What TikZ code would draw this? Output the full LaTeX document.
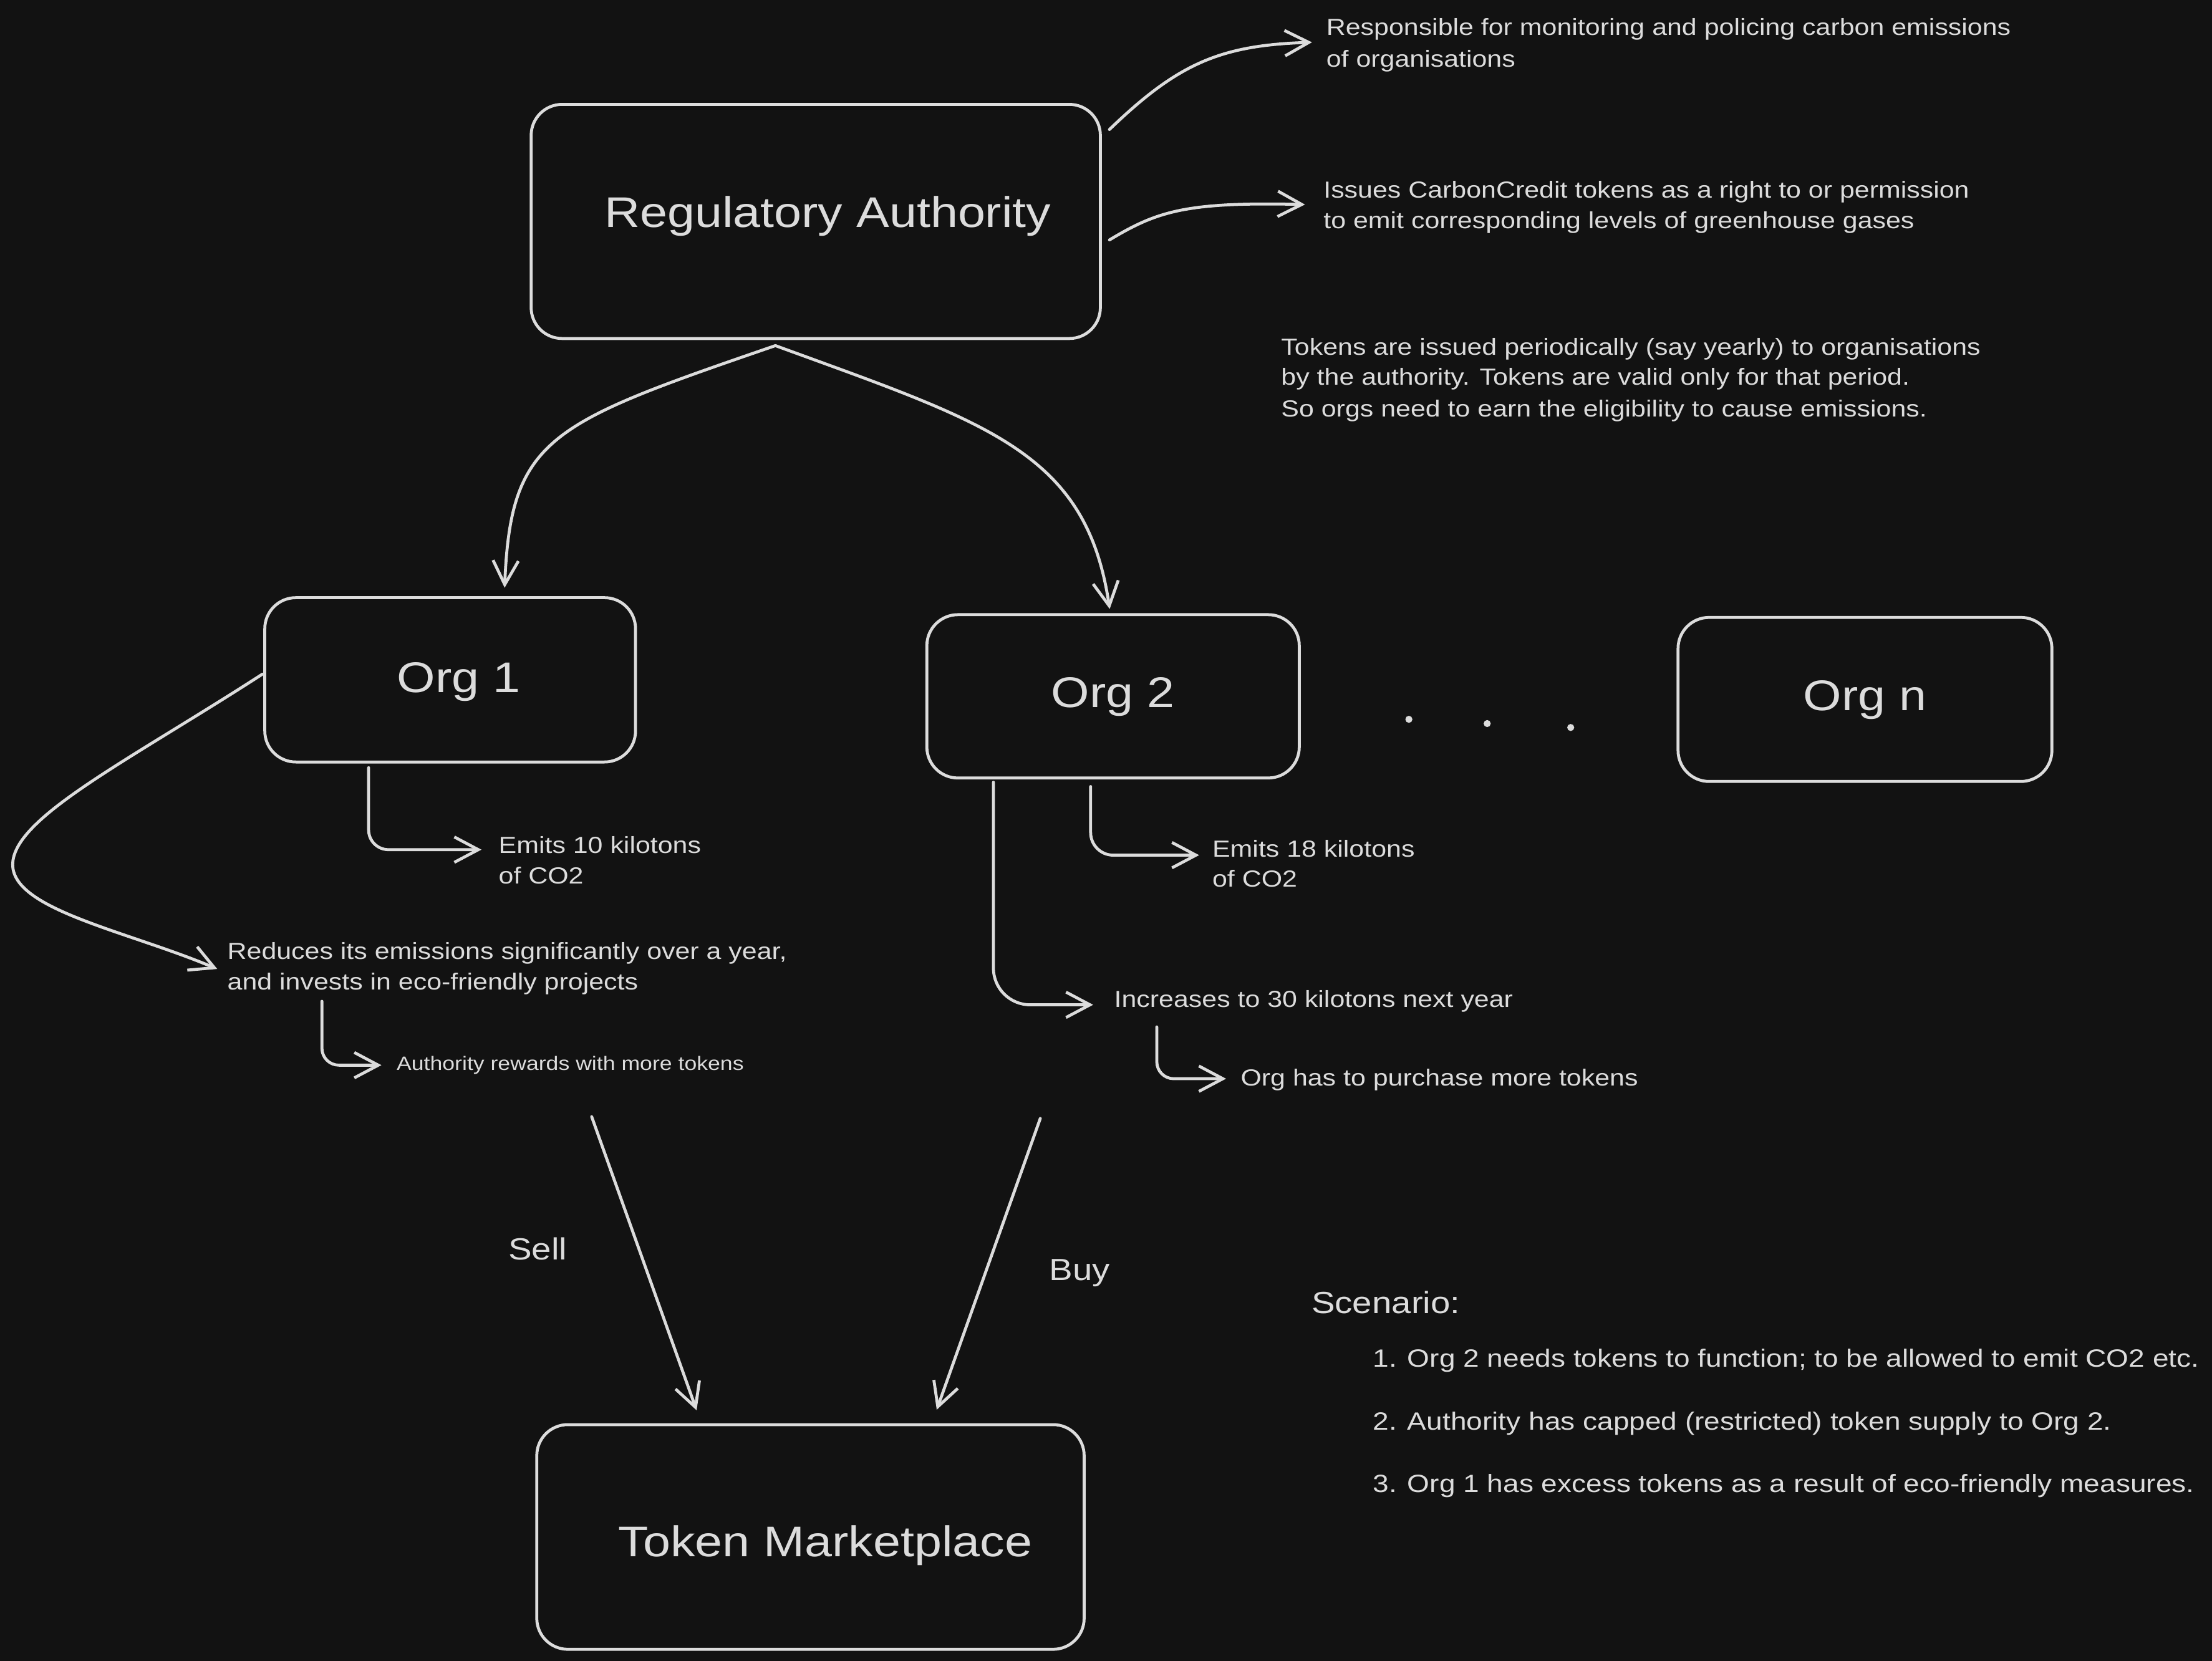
\documentclass[tikz,border=0pt]{standalone}
\usepackage{fontspec}
\setmainfont{Liberation Sans}[FakeStretch=1.15]
\usetikzlibrary{arrows.meta,calc}
\definecolor{bgc}{HTML}{121212}
\definecolor{inkc}{HTML}{DCDCDC}
\newcommand\fntS{\fontsize{16.5}{19}\selectfont}
\newcommand\fntI{\fontsize{17.7}{20}\selectfont}
\newcommand\fntR{\fontsize{13.7}{16}\selectfont}
\newcommand\fntM{\fontsize{21.7}{25}\selectfont}
\newcommand\fntB{\fontsize{30.4}{34}\selectfont}
\tikzset{
  box/.style={draw=inkc, line width=2.1pt, rounded corners=22pt, fill=bgc, inner sep=0pt, font=\fntB, text=inkc, text height=22pt, text depth=6pt},
  arr/.style={draw=inkc, line width=2.1pt, line cap=round, line join=round, -{Straight Barb[length=17pt,width=18pt]}},
  lbl/.style={anchor=base west, inner sep=0pt, text=inkc, font=\fntS},
  dotn/.style={circle, fill=inkc, inner sep=0pt, minimum size=5pt},
}
\begin{document}
\begin{tikzpicture}[x=1pt,y=-1pt]
\fill[bgc] (0,0) rectangle (1568,1177.65);
\useasboundingbox (0,0) rectangle (1568,1177.65);

% boxes
\node[box, minimum width=403.5pt, minimum height=166pt, text height=20pt, text depth=12pt] (ra) at (578.25,157) {\hspace*{17pt}Regulatory Authority};
\node[box, minimum width=262.8pt, minimum height=116.5pt, text height=24pt, text depth=6pt] (o1) at (319.1,482) {\hspace*{12pt}Org 1};
\node[box, minimum width=264pt, minimum height=115.8pt] (o2) at (789,493.7) {Org 2};
\node[box, minimum width=265pt, minimum height=116.3pt] (on) at (1322,495.9) {Org n};
\node[box, minimum width=388pt, minimum height=159.3pt, text height=30pt, text depth=2.4pt] (tm) at (574.5,1089.7) {\hspace*{21pt}Token Marketplace};

% dots
\node[dotn] (d1) at (998.7,510) {};
\node[dotn] (d2) at (1054.2,513) {};
\node[dotn] (d3) at (1113.4,515.8) {};

% texts
\node[lbl] (resp1) at (940,25) {Responsible for monitoring and policing carbon emissions};
\node[lbl] (resp2) at (940,47.5) {of organisations};
\node[lbl] (iss1) at (938,140.5) {Issues CarbonCredit tokens as a right to or permission};
\node[lbl] (iss2) at (938,162) {to emit corresponding levels of greenhouse gases};
\node[lbl] (tok1) at (908,251.6) {Tokens are issued periodically (say yearly) to organisations};
\node[lbl] (tok2) at (908,273) {by the authority. Tokens are valid only for that period.};
\node[lbl] (tok3) at (908,295.5) {So orgs need to earn the eligibility to cause emissions.};
\node[lbl] (e10a) at (353.3,605) {Emits 10 kilotons};
\node[lbl] (e10b) at (353.3,626.6) {of CO2};
\node[lbl] (e18a) at (859.2,607.4) {Emits 18 kilotons};
\node[lbl] (e18b) at (859.2,628.7) {of CO2};
\node[lbl] (red1) at (161,680.2) {Reduces its emissions significantly over a year,};
\node[lbl] (red2) at (161,701.7) {and invests in eco-friendly projects};
\node[lbl, font=\fntR] (rew) at (281,758.9) {Authority rewards with more tokens};
\node[lbl] (inc) at (789.6,714) {Increases to 30 kilotons next year};
\node[lbl] (pur) at (879.3,769.9) {Org has to purchase more tokens};
\node[lbl, font=\fntM] (sell) at (360.2,893) {Sell};
\node[lbl, font=\fntM] (buy) at (743.5,907.7) {Buy};
\node[lbl, font=\fntM] (scen) at (929.5,931) {Scenario:};
\node[lbl, font=\fntI] (sc1) at (973,969.3) {1. Org 2 needs tokens to function; to be allowed to emit CO2 etc.};
\node[lbl, font=\fntI] (sc2) at (973,1013.8) {2. Authority has capped (restricted) token supply to Org 2.};
\node[lbl, font=\fntI] (sc3) at (973,1058) {3. Org 1 has excess tokens as a result of eco-friendly measures.};

% connectors
\coordinate (split) at ($(ra.south)+(-28.6,4)$);
\draw[arr] (split) .. controls (390,300) and (362,310) .. ($(o1.north)+(38.6,-6)$);
\draw[arr] (split) .. controls (700,300) and (770,320) .. ($(o2.north)+(-2.4,-3)$);
\draw[arr] ($(ra.east)+(5.4,-65.2)$) .. controls (835,45) and (865,32) .. ($(resp1.base west)+(-10,5)$);
\draw[arr] ($(ra.east)+(5.4,13.1)$) .. controls (820,150) and (840,143) .. ($(iss1.base west)+(-13,4.5)$);

\draw[arr, rounded corners=14pt] ($(o1.south)+(-57.8,3)$) |- ($(e10a.base west)+(-12,-2.6)$);
\draw[arr] ($(o1.west)+(-0.7,-4)$) .. controls (90,540) and (9,580) .. (9,613) .. controls (9,645) and (90,660) .. ($(red1.base west)+(-7,6.8)$);
\draw[arr, rounded corners=12pt] ($(red2.base west)+(67.2,8.2)$) |- ($(rew.base west)+(-10.6,-3.7)$);

\draw[arr, rounded corners=16pt] ($(o2.south)+(-15.9,5)$) |- ($(e18a.base west)+(-9.2,-1.1)$);
\draw[arr, rounded corners=26pt] ($(o2.south)+(-84.8,2)$) |- ($(inc.base west)+(-14.7,-1.6)$);
\draw[arr, rounded corners=12pt] ($(inc.base west)+(30.4,14.1)$) |- ($(pur.base west)+(-10.2,-5.1)$);

\coordinate (sellstart) at (419.4,791.7);
\coordinate (buystart) at (737.4,793);
\draw[arr] (sellstart) -- ($(tm.north)+(-80.7,-9.1)$);
\draw[arr] (buystart) -- ($(tm.north)+(89.5,-9.5)$);
\end{tikzpicture}
\end{document}
